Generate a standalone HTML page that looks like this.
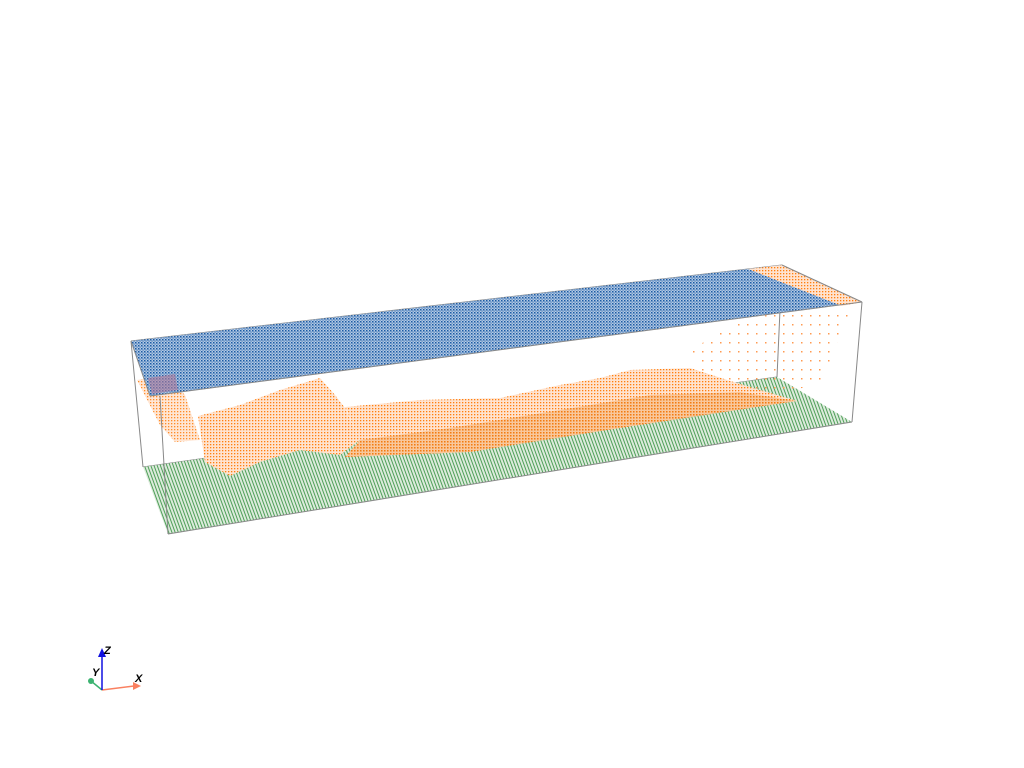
<!DOCTYPE html>
<html><head><meta charset="utf-8"><style>
html,body{margin:0;padding:0;background:#fff;width:1024px;height:768px;overflow:hidden}
svg{display:block}
text{font-family:"Liberation Sans",sans-serif;font-style:italic}
</style></head><body>
<svg width="1024" height="768" viewBox="0 0 1024 768">
<defs>
<pattern id="pb" width="3" height="3" patternUnits="userSpaceOnUse">
<rect width="3" height="3" fill="#b4c9e2"/><rect x="0" y="0" width="1.5" height="1.5" fill="#1a5aa5"/><rect x="1.5" y="1.5" width="1.2" height="1.2" fill="#3f78ba"/>
</pattern>
<pattern id="pg" width="3" height="3" patternUnits="userSpaceOnUse" patternTransform="rotate(-20)">
<rect width="3" height="3" fill="#dcebdc"/><rect width="1" height="3" fill="#4f9f58"/>
</pattern>
<pattern id="po" width="3" height="3" patternUnits="userSpaceOnUse">
<rect width="3" height="3" fill="#ffe3cf"/><rect width="1.3" height="1.3" fill="#ff7f0e"/>
</pattern>
<pattern id="pod" width="3" height="3" patternUnits="userSpaceOnUse">
<rect width="3" height="3" fill="#f7c08e"/><rect width="1.6" height="1.6" fill="#f07a10"/>
</pattern>
<pattern id="pof" width="9" height="9" patternUnits="userSpaceOnUse">
<rect width="1.5" height="1.5" fill="#ff9a50"/>
</pattern>
</defs>
<g stroke="#888" stroke-width="1" fill="none">
<line x1="782" y1="265" x2="777" y2="377"/>
<line x1="143" y1="467" x2="777" y2="377"/>
<line x1="131" y1="341" x2="143" y2="467"/>
<line x1="131" y1="341" x2="782" y2="265"/>
</g>
<polygon points="143,467 777,377 852,422 168,534" fill="url(#pg)"/>
<polygon points="690,350 760,310 850,310 820,385 760,395 700,372" fill="url(#pof)"/>
<polygon points="137,380 165,375 185,395 200,440 175,442 160,425" fill="url(#po)" opacity="0.9"/>
<polygon points="198,416 240,405 280,390 320,378 335,395 345,408 360,440 340,455 300,450 260,462 230,476 205,462" fill="url(#po)"/>
<polygon points="345,407 420,400 500,398 560,385 600,378 630,370 690,368 740,384 797,401 700,415 620,428 540,440 470,452 345,457 360,440" fill="url(#po)"/>
<polygon points="360,440 450,428 560,410 650,395 740,392 797,401 620,428 470,452 345,457" fill="url(#pod)" opacity="0.8"/>
<polygon points="131,341 782,265 862,302 150,396" fill="url(#pb)"/>
<polygon points="748,269 782,265 862,302 842,306" fill="url(#po)"/>
<polygon points="148,378 175,374 178,390 152,394" fill="#b07a9a" opacity="0.6"/>
<g stroke="#888" stroke-width="1" fill="none">
<line x1="150" y1="396" x2="862" y2="302"/>
<line x1="150" y1="396" x2="131" y2="341"/>
<line x1="862" y1="302" x2="782" y2="265"/>
<line x1="160" y1="396" x2="168" y2="534"/>
<line x1="862" y1="302" x2="852" y2="422"/>
<line x1="168" y1="534" x2="852" y2="422"/>
</g>
<g>
<line x1="102" y1="690" x2="91" y2="681" stroke="#3cb371" stroke-width="1.5"/>
<circle cx="91" cy="681" r="3" fill="#3cb371"/>
<line x1="102" y1="690" x2="134" y2="686" stroke="#fa8060" stroke-width="1.5"/>
<polygon points="141,686 133,682 133,690" fill="#fa8060"/>
<line x1="102" y1="690" x2="102" y2="655" stroke="#1010e0" stroke-width="1.5"/>
<polygon points="102,648 98,657 106,657" fill="#1010e0"/>
<text x="104" y="654" font-size="11" font-weight="bold">Z</text>
<text x="92" y="676" font-size="11" font-weight="bold">Y</text>
<text x="135" y="682" font-size="11" font-weight="bold">X</text>
</g>
</svg>
</body></html>
